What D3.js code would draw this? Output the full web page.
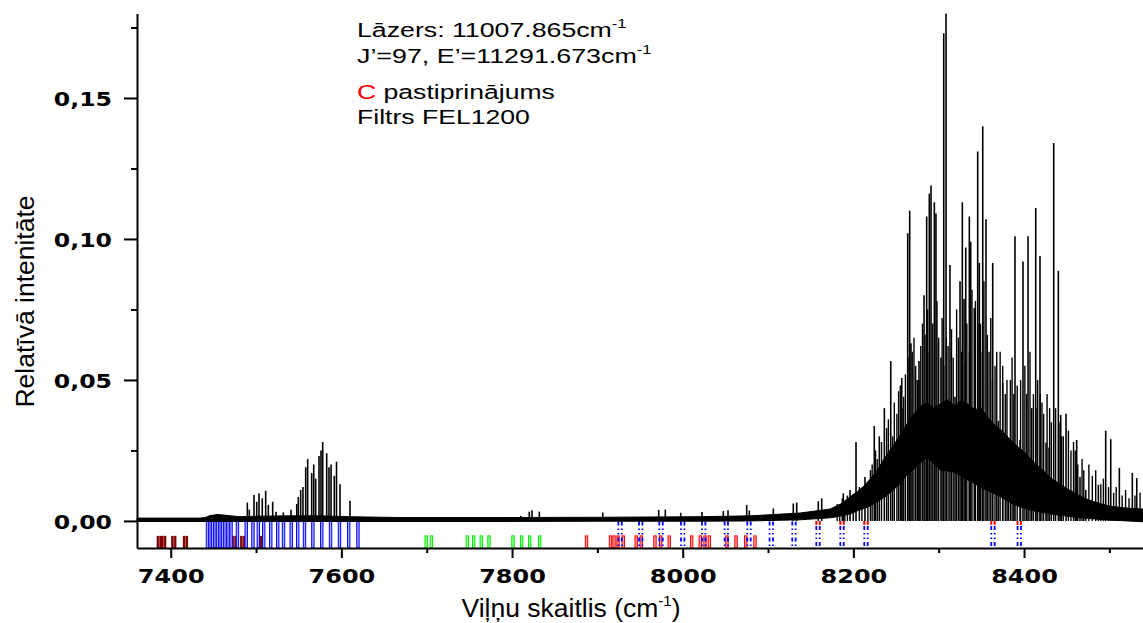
<!DOCTYPE html>
<html><head><meta charset="utf-8">
<script src="https://cdn.jsdelivr.net/npm/d3@7"></script>
<style>body{margin:0;background:#fff}svg{display:block}</style>
</head><body>
<svg id="c" width="1143" height="623"></svg>
<script>
// ---------------- DATA ----------------
const xTicksMajor = [7400, 7600, 7800, 8000, 8200, 8400];
const xTicksMinor = [7500, 7700, 7900, 8100, 8300, 8500];
const yTicksMajor = [0, 0.05, 0.10, 0.15];
const yTickLabels = ["0,00", "0,05", "0,10", "0,15"];
const yTicksMinor = [0.025, 0.075, 0.125, 0.175];

const xTitle = "Viļņu skaitlis (cm";
const xTitleSup = "-1";
const yTitle = "Relatīvā intenitāte";

const annotationLines = [
  [{t: "Lāzers: 11007.865cm"}, {t: "-1", sup: true}],
  [{t: "J’=97, E’=11291.673cm"}, {t: "-1", sup: true}],
  [{t: "C", red: true}, {t: " pastiprinājums"}],
  [{t: "Filtrs FEL1200"}]
];

// noisy continuum band of the spectrum (wavenumber, lower edge, upper edge)
const bandX  = [7360.5, 7434.3, 7440.4, 7446.1, 7455.4, 7467.1, 7481.2, 7504.6, 7539.8, 7575.0, 7610.0, 7668.7, 7785.9, 7903.1, 8020.3, 8078.9, 8137.5, 8172.6,
  8185, 8196, 8205, 8213, 8220, 8228, 8237, 8245, 8254, 8262, 8270, 8278, 8286, 8294, 8302, 8310, 8318, 8326, 8334, 8342, 8350, 8358, 8366, 8374, 8382, 8390, 8398, 8406, 8414, 8422, 8430, 8440, 8450, 8460, 8470, 8480, 8490, 8500, 8515, 8539.4];
const bandLo = [-0.0002, -0.0002, -0.0002, -0.0002, -0.0002, -0.0002, -0.0002, -0.0002, -0.0002, -0.0002, -0.0002, -0.0002, -0.0002, -0.0001, -0.0001, 0.0000, 0.0004, 0.0011,
  0.0017, 0.0025, 0.0036, 0.0045, 0.0053, 0.0068, 0.0085, 0.0105, 0.0130, 0.0160, 0.0182, 0.0205, 0.0227, 0.0205, 0.0180, 0.0178, 0.0173, 0.0160, 0.0145, 0.0132, 0.0118, 0.0106, 0.0096, 0.0083, 0.0068, 0.0056, 0.0047, 0.0040, 0.0034, 0.0030, 0.0025, 0.0021, 0.0017, 0.0013, 0.0010, 0.0008, 0.0005, 0.0003, 0.0001, -0.0003];
const bandHi = [0.0010, 0.0010, 0.0012, 0.0019, 0.0023, 0.0019, 0.0015, 0.0017, 0.0018, 0.0018, 0.0015, 0.0012, 0.0012, 0.0013, 0.0015, 0.0018, 0.0028, 0.0042,
  0.0060, 0.0085, 0.0105, 0.0125, 0.0150, 0.0180, 0.0225, 0.0260, 0.0300, 0.0340, 0.0375, 0.0405, 0.0420, 0.0400, 0.0415, 0.0430, 0.0410, 0.0425, 0.0415, 0.0395, 0.0400, 0.0365, 0.0340, 0.0320, 0.0295, 0.0270, 0.0250, 0.0225, 0.0200, 0.0180, 0.0155, 0.0135, 0.0115, 0.0098, 0.0082, 0.0070, 0.0061, 0.0053, 0.0047, 0.0042];

// individual spectral lines (wavenumber, peak intensity)
const peakX = [7489.8, 7492.1, 7497.6, 7500.8, 7503.5, 7507.3, 7511.3, 7514.4, 7519.5, 7523.4, 7532.0, 7541.0, 7547.7, 7549.5, 7552.3, 7555.0, 7558.2, 7560.5, 7565.2, 7567.6, 7569.9, 7573.8, 7576.1, 7578.1, 7582.8, 7585.5, 7587.9, 7591.7, 7594.3, 7598.4, 7610.1,
  7810.2, 7820.2, 7823.4, 7832.0, 7906.3, 7971.9, 7979.6, 7997.7, 8022.6, 8047.6, 8053.1, 8075.0, 8078.1, 8106.2, 8129.6, 8133.6, 8158.9, 8162.9, 8188.2, 8196.1, 8199.9,
  8203.1, 8213.6, 8224.5, 8230.4, 8236.3, 8243.8, 8256.7, 8263.7, 8266.0, 8267.5, 8274.9, 8276.9, 8282.8, 8285.9, 8289.0, 8291.0, 8294.9, 8296.8, 8302.7, 8305.9, 8308.6, 8313.2, 8319.1, 8325.0, 8327.7, 8329.7, 8331.7, 8335.9, 8337.5, 8341.7, 8345.7, 8347.6, 8351.6, 8355.4, 8363.3, 8369.9, 8375.0, 8381.6, 8389.4, 8395.3, 8398.8, 8404.7, 8409.0, 8413.7, 8418.7, 8425.8, 8429.3, 8434.8, 8440.2, 8443.0, 8449.2, 8461.7, 8465.6, 8472.3, 8487.1, 8495.7, 8501.6, 8511.7, 8526.9, 8532.1];
const peakY = [0.0065, 0.0040, 0.0092, 0.0068, 0.0098, 0.0080, 0.0107, 0.0057, 0.0068, 0.0033, 0.0030, 0.0040, 0.0060, 0.0085, 0.0110, 0.0120, 0.0190, 0.0220, 0.0170, 0.0200, 0.0150, 0.0230, 0.0250, 0.0280, 0.0240, 0.0190, 0.0200, 0.0160, 0.0210, 0.0130, 0.0072,
  0.0018, 0.0033, 0.0038, 0.0033, 0.0030, 0.0039, 0.0040, 0.0029, 0.0032, 0.0035, 0.0038, 0.0057, 0.0037, 0.0044, 0.0062, 0.0065, 0.0070, 0.0080, 0.0098, 0.0110, 0.0095,
  0.0280, 0.0156, 0.0337, 0.0300, 0.0400, 0.0567, 0.0507, 0.1020, 0.1100, 0.0630, 0.0500, 0.0567, 0.0800, 0.1080, 0.1160, 0.1190, 0.1130, 0.1090, 0.0580, 0.1730, 0.1800, 0.0908, 0.0440, 0.0850, 0.1130, 0.0787, 0.0970, 0.1080, 0.0990, 0.0755, 0.1310, 0.0915, 0.1400, 0.1070, 0.0915, 0.0355, 0.0490, 0.0294, 0.1010, 0.0287, 0.0920, 0.1010, 0.0400, 0.1110, 0.0940, 0.0277, 0.0260, 0.1340, 0.0887, 0.0376, 0.0380, 0.0287, 0.0156, 0.0110, 0.0128, 0.0320, 0.0290, 0.0188, 0.0170, 0.0152];

// dense weaker lines of the band forest (wavenumber, peak intensity)
const forestX = [8181, 8184, 8187, 8190, 8193, 8207, 8210, 8217, 8220, 8222, 8226, 8228, 8233, 8239, 8241, 8246, 8248, 8251, 8253, 8255, 8257, 8259, 8261, 8264, 8269, 8271, 8273, 8277, 8279, 8281, 8284, 8287, 8289, 8293, 8298, 8300, 8304, 8306, 8309, 8311, 8315, 8317, 8321, 8323, 8327, 8331, 8333, 8336, 8339, 8343, 8346, 8349, 8351, 8353, 8357, 8359, 8361, 8363, 8366, 8368, 8372, 8375, 8378, 8380, 8384, 8386, 8388, 8392, 8396, 8401, 8403, 8407, 8411, 8414, 8416, 8419, 8421, 8423, 8427, 8430, 8432, 8437, 8441, 8444, 8446, 8452, 8455, 8458, 8460, 8463, 8468, 8470, 8476, 8480, 8484, 8490, 8493, 8499, 8505, 8508, 8515, 8519, 8523, 8530, 8536];
const forestY = [0.0060, 0.0050, 0.0080, 0.0060, 0.0090, 0.0120, 0.0100, 0.0140, 0.0180, 0.0200, 0.0250, 0.0220, 0.0280, 0.0330, 0.0360, 0.0300, 0.0420, 0.0380, 0.0460, 0.0480, 0.0400, 0.0440, 0.0520, 0.0580, 0.0600, 0.0650, 0.0550, 0.0500, 0.0620, 0.0700, 0.0660, 0.0750, 0.0600, 0.0700, 0.0780, 0.0650, 0.0720, 0.0550, 0.0650, 0.0620, 0.0680, 0.0580, 0.0750, 0.0650, 0.0600, 0.0550, 0.0700, 0.0600, 0.0820, 0.0780, 0.0700, 0.0700, 0.0600, 0.0850, 0.0660, 0.0600, 0.0720, 0.0500, 0.0550, 0.0600, 0.0600, 0.0550, 0.0450, 0.0500, 0.0500, 0.0580, 0.0450, 0.0480, 0.0500, 0.0550, 0.0450, 0.0600, 0.0450, 0.0400, 0.0500, 0.0450, 0.0420, 0.0380, 0.0450, 0.0400, 0.0350, 0.0400, 0.0350, 0.0300, 0.0300, 0.0320, 0.0250, 0.0280, 0.0250, 0.0200, 0.0220, 0.0180, 0.0200, 0.0160, 0.0180, 0.0130, 0.0150, 0.0120, 0.0100, 0.0120, 0.0090, 0.0110, 0.0080, 0.0090, 0.0100];

// assignment markers (wavenumbers)
const darkRedLines = [7386.6, 7391.8, 7403.6, 7417.3, 7447.5, 7456.0, 7465.3, 7474.4, 7484.4, 7504.3];
const blueLines = [7443.1, 7446.1, 7449.0, 7451.9, 7454.8, 7457.8, 7460.7, 7463.6, 7467.2, 7470.7, 7478.2, 7488.5, 7496.4, 7502.7, 7509.0, 7517.2, 7525.4, 7532.2, 7541.2, 7548.8, 7556.8, 7566.6, 7577.0, 7587.3, 7597.8, 7608.6, 7619.4];
const greenLines = [7699.4, 7705.4, 7747.6, 7755.1, 7764.0, 7773.0, 7801.1, 7811.3, 7820.7, 7832.4];
const redLines = [7887.3, 7915.4, 7919.5, 7924.2, 7930.4, 7945.5, 7951.5, 7967.5, 7974.2, 7984.2, 8010.5, 8020.6, 8026.1, 8031.2, 8051.9, 8062.5, 8073.8, 8084.7];
const blueDotted = [7926.6, 7950.8, 7974.6, 8000.0, 8024.6, 8051.1, 8077.7, 8103.8, 8130.4, 8158.6, 8186.7, 8214.8, 8363.6, 8394.4];
const redTopped = [8158.6, 8186.7, 8214.8, 8363.6, 8394.4];

// ---------------- CHART ----------------
const svg = d3.select("#c");
const x = d3.scaleLinear().domain([7360.5, 8540]).range([137, 1143.5]);
const y = d3.scaleLinear().domain([-0.0096, 0.18]).range([548, 13.4]);
const yMarkTop = 0, yMarkMid = -0.0053, yMarkBot = -0.0096;

const gM = svg.append("g");
function rects(data, v0, v1, w, stroke, fill) {
  gM.append("g").selectAll("rect").data(data).join("rect")
    .attr("x", d => x(d) - w / 2).attr("width", w)
    .attr("y", y(v1)).attr("height", y(v0) - y(v1))
    .attr("fill", fill).attr("stroke", stroke).attr("stroke-width", 1);
}
// dark red bars
gM.append("g").selectAll("rect").data(darkRedLines).join("rect")
  .attr("x", d => x(d) - 2.6).attr("width", 5.2)
  .attr("y", y(yMarkMid)).attr("height", y(yMarkBot) - y(yMarkMid))
  .attr("fill", "#800000");
gM.append("g").selectAll("line").data(darkRedLines).join("line")
  .attr("x1", d => x(d)).attr("x2", d => x(d))
  .attr("y1", y(yMarkMid)).attr("y2", y(yMarkBot))
  .attr("stroke", "#c08a8a").attr("stroke-width", 0.7);
rects(blueLines, yMarkBot, yMarkTop, 2.4, "#0000ff", "#a8a8ff");
rects(greenLines, yMarkBot, yMarkMid, 2.4, "#00ee00", "#a0ffa0");
rects(redLines, yMarkBot, yMarkMid, 2.4, "#ff0000", "#ffa0a0");
// red small tops
gM.append("g").selectAll("g").data(redTopped).join("g").each(function(d) {
  [-1.7, 1.7].forEach(o => d3.select(this).append("line")
    .attr("x1", x(d) + o).attr("x2", x(d) + o)
    .attr("y1", y(yMarkTop)).attr("y2", y(yMarkTop) + 4)
    .attr("stroke", "#ff0000").attr("stroke-width", 2));
});
// blue dotted pairs
gM.append("g").selectAll("g").data(blueDotted).join("g").each(function(d) {
  [-1.7, 1.7].forEach(o => d3.select(this).append("line")
    .attr("x1", x(d) + o).attr("x2", x(d) + o)
    .attr("y1", y(yMarkTop) + (redTopped.includes(d) ? 5 : 0.5)).attr("y2", y(yMarkBot))
    .attr("stroke", "#0000ff").attr("stroke-width", 1.8)
    .attr("stroke-dasharray", "4,3,1.5,3,1.5,3"));
});

// spectrum
const gS = svg.append("g");
const idx = d3.range(bandX.length);
gS.append("path").datum(idx)
  .attr("d", d3.area().x(i => x(bandX[i])).y0(i => y(bandLo[i])).y1(i => y(bandHi[i])))
  .attr("fill", "#000").attr("stroke", "#000").attr("stroke-width", 1);
gS.append("g").selectAll("line").data(d3.range(forestX.length)).join("line")
  .attr("x1", i => x(forestX[i])).attr("x2", i => x(forestX[i]))
  .attr("y1", y(0)).attr("y2", i => y(forestY[i]))
  .attr("stroke", "#000").attr("stroke-width", 1.4);
gS.append("g").selectAll("line").data(d3.range(peakX.length)).join("line")
  .attr("x1", i => x(peakX[i])).attr("x2", i => x(peakX[i]))
  .attr("y1", y(0)).attr("y2", i => y(peakY[i]))
  .attr("stroke", "#000").attr("stroke-width", 1.6);

// axes
const tickFont = "DejaVu Sans, Verdana, sans-serif";
const xAxisG = svg.append("g").attr("transform", `translate(0,${y(yMarkBot)})`)
  .call(d3.axisBottom(x).tickValues(xTicksMajor).tickSize(10).tickSizeOuter(0).tickFormat(d3.format("d")));
svg.append("g").attr("transform", `translate(0,${y(yMarkBot)})`)
  .call(d3.axisBottom(x).tickValues(xTicksMinor).tickSize(5).tickSizeOuter(0).tickFormat(""))
  .select(".domain").remove();
const yAxisG = svg.append("g").attr("transform", `translate(${x(7360.5)},0)`)
  .call(d3.axisLeft(y).tickValues(yTicksMajor).tickSize(13).tickSizeOuter(0).tickFormat((d, i) => yTickLabels[i]));
svg.append("g").attr("transform", `translate(${x(7360.5)},0)`)
  .call(d3.axisLeft(y).tickValues(yTicksMinor).tickSize(6).tickSizeOuter(0).tickFormat(""))
  .select(".domain").remove();
svg.selectAll(".domain, .tick line").attr("stroke", "#000").attr("stroke-width", 2);

xAxisG.selectAll(".tick text")
  .attr("font-family", tickFont).attr("font-weight", "bold").attr("font-size", 19.5)
  .attr("fill", "#000").attr("y", 0).attr("dy", 0)
  .attr("transform", "translate(0,35) scale(1.23,1)");
yAxisG.selectAll(".tick text")
  .attr("font-family", tickFont).attr("font-weight", "bold").attr("font-size", 20)
  .attr("fill", "#000").attr("x", 0).attr("dy", "0.36em")
  .attr("transform", "translate(-25,0) scale(1.18,1)");

// axis titles
const xt = svg.append("text").attr("x", 571).attr("y", 617).attr("text-anchor", "middle")
  .attr("font-family", "Liberation Sans, Arial, sans-serif").attr("font-size", 26.5).attr("fill", "#000");
xt.append("tspan").text(xTitle);
xt.append("tspan").text(xTitleSup).attr("font-size", 15).attr("dy", -11);
xt.append("tspan").text(")").attr("dy", 11);

svg.append("text").attr("transform", "translate(33.5,301.5) rotate(-90)").attr("text-anchor", "middle")
  .attr("font-family", "Liberation Sans, Arial, sans-serif").attr("font-size", 26.5).attr("fill", "#000")
  .text(yTitle);

// annotation
const annBase = [37, 63, 99, 124];
const annRight = [626.7, 651.7, 555, 530];
annotationLines.forEach((parts, li) => {
  const g = svg.append("g");
  const t = g.append("text").attr("font-family", "Liberation Sans, Arial, sans-serif")
    .attr("font-size", 19.5).attr("fill", "#000");
  parts.forEach(p => {
    const ts = t.append("tspan").text(p.t);
    if (p.red) ts.attr("fill", "#ff0000");
    if (p.sup) ts.attr("font-size", 12).attr("dy", -9);
  });
  const w = t.node().getComputedTextLength();
  const sx = (annRight[li] - 357) / w;
  g.attr("transform", `translate(357,${annBase[li]}) scale(${sx},1)`);
});
</script>
</body></html>
